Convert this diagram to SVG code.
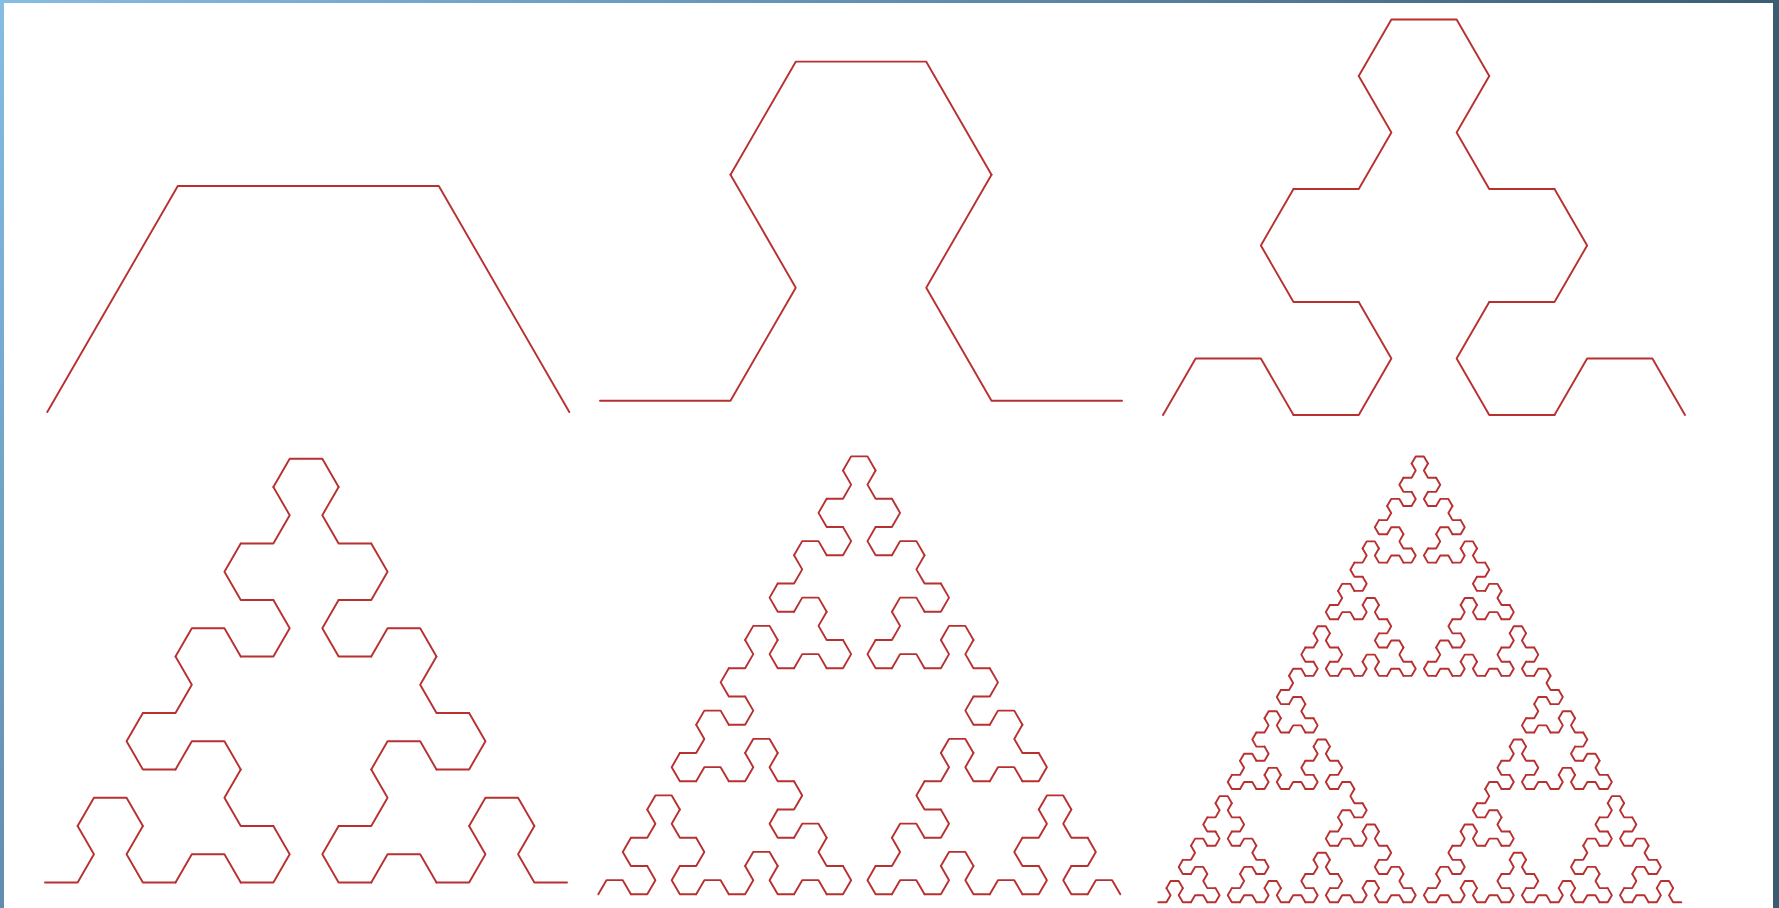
<svg xmlns="http://www.w3.org/2000/svg" xmlns:xlink="http://www.w3.org/1999/xlink" width="1779" height="908" viewBox="0 0 1779 908">
<style>
.c{fill:none;stroke:#b83030;stroke-width:1.9;stroke-linejoin:round;stroke-linecap:round;vector-effect:non-scaling-stroke}
</style>
<defs>
<linearGradient id="bg" gradientUnits="userSpaceOnUse" x1="0" y1="0" x2="900" y2="900">
<stop offset="0" stop-color="#86bde3"/>
<stop offset="0.55" stop-color="#5d89ab"/>
<stop offset="1" stop-color="#3b5b71"/>
</linearGradient>
<path id="a1" class="c" d="M0,0 L0.25,-0.4330127 L0.75,-0.4330127 L1,0"/>
<g id="a2"><use href="#a1" transform="matrix(0.25,-0.4330127,-0.4330127,-0.25,0,0)"/><use href="#a1" transform="matrix(0.5,0,0,0.5,0.25,-0.4330127)"/><use href="#a1" transform="matrix(0.25,0.4330127,0.4330127,-0.25,0.75,-0.4330127)"/></g>
<g id="a3"><use href="#a2" transform="matrix(0.25,-0.4330127,-0.4330127,-0.25,0,0)"/><use href="#a2" transform="matrix(0.5,0,0,0.5,0.25,-0.4330127)"/><use href="#a2" transform="matrix(0.25,0.4330127,0.4330127,-0.25,0.75,-0.4330127)"/></g>
<g id="a4"><use href="#a3" transform="matrix(0.25,-0.4330127,-0.4330127,-0.25,0,0)"/><use href="#a3" transform="matrix(0.5,0,0,0.5,0.25,-0.4330127)"/><use href="#a3" transform="matrix(0.25,0.4330127,0.4330127,-0.25,0.75,-0.4330127)"/></g>
<g id="a5"><use href="#a4" transform="matrix(0.25,-0.4330127,-0.4330127,-0.25,0,0)"/><use href="#a4" transform="matrix(0.5,0,0,0.5,0.25,-0.4330127)"/><use href="#a4" transform="matrix(0.25,0.4330127,0.4330127,-0.25,0.75,-0.4330127)"/></g>
<g id="a6"><use href="#a5" transform="matrix(0.25,-0.4330127,-0.4330127,-0.25,0,0)"/><use href="#a5" transform="matrix(0.5,0,0,0.5,0.25,-0.4330127)"/><use href="#a5" transform="matrix(0.25,0.4330127,0.4330127,-0.25,0.75,-0.4330127)"/></g>
</defs>
<rect x="0" y="0" width="1779" height="908" fill="url(#bg)"/>
<rect x="4" y="3" width="1769" height="905" fill="#ffffff"/>
<g id="order1"><use href="#a1" transform="translate(47.3,412) scale(522)"/></g>
<g id="order2"><use href="#a2" transform="translate(600,400.7) scale(522)"/></g>
<g id="order3"><use href="#a3" transform="translate(1163,415) scale(522)"/></g>
<g id="order4"><use href="#a4" transform="translate(45,882.5) scale(522)"/></g>
<g id="order5"><use href="#a5" transform="translate(598.3,894.3) scale(522)"/></g>
<g id="order6"><use href="#a6" transform="translate(1158.3,902.3) scale(523)"/></g>
</svg>
